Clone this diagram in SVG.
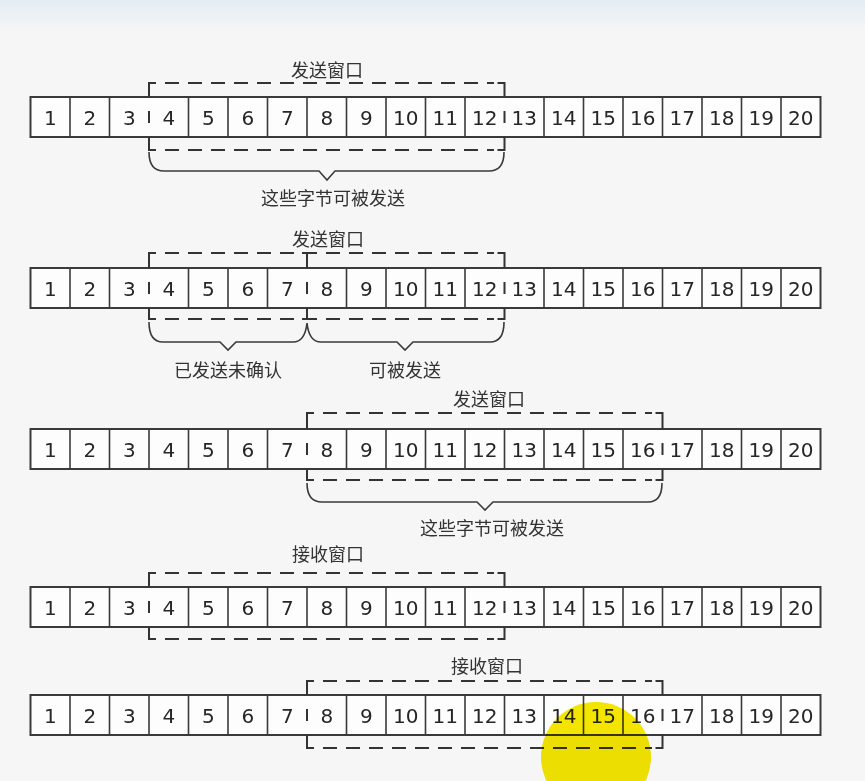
<svg xmlns="http://www.w3.org/2000/svg" width="865" height="781" viewBox="0 0 865 781">
<defs>
<linearGradient id="topfade" x1="0" y1="0" x2="0" y2="1">
<stop offset="0" stop-color="#e4ecf3"/>
<stop offset="1" stop-color="#f6f6f6"/>
</linearGradient>
<style>
.row{fill:#fdfdfd;stroke:#3a3a3a;stroke-width:2}
.sep{stroke:#3a3a3a;stroke-width:1.6;fill:none}
.num{font-family:"DejaVu Sans",Verdana,sans-serif;font-size:20px;fill:#262626;text-anchor:middle;dominant-baseline:central}
.lbl{font-family:"Noto Sans CJK SC","Noto Sans",sans-serif;font-size:18px;fill:#333;text-anchor:middle;dominant-baseline:central}
.win{stroke:#333;stroke-width:2;fill:none}
.dash{stroke:#333;stroke-width:2;fill:none;stroke-dasharray:14 9}
.brace{stroke:#3a3a3a;stroke-width:1.6;fill:none}
</style>
</defs>
<rect x="0" y="0" width="865" height="781" fill="#f6f6f6"/>
<rect x="0" y="0" width="865" height="32" fill="url(#topfade)"/>

<!-- Row 1: send window over 4-12 -->
<g id="row1" transform="translate(0,97)">
<rect class="row" x="30.5" y="0" width="790" height="40"/>
<path class="sep" d="M70,0V40M109.5,0V40M188.5,0V40M228,0V40M267.5,0V40M307,0V40M346.5,0V40M386,0V40M425.5,0V40M465,0V40M544,0V40M583.5,0V40M623,0V40M662.5,0V40M702,0V40M741.5,0V40M781,0V40"/>
<g class="num"><text x="50.25" y="21">1</text><text x="89.75" y="21">2</text><text x="129.25" y="21">3</text><text x="168.75" y="21">4</text><text x="208.25" y="21">5</text><text x="247.75" y="21">6</text><text x="287.25" y="21">7</text><text x="326.75" y="21">8</text><text x="366.25" y="21">9</text><text x="405.75" y="21">10</text><text x="445.25" y="21">11</text><text x="484.75" y="21">12</text><text x="524.25" y="21">13</text><text x="563.75" y="21">14</text><text x="603.25" y="21">15</text><text x="642.75" y="21">16</text><text x="682.25" y="21">17</text><text x="721.75" y="21">18</text><text x="761.25" y="21">19</text><text x="800.75" y="21">20</text></g>
<path class="win" d="M149,0V-14H156M504.5,0V-14H497.5M149,40V53H156M504.5,40V53H497.5M149,14V26M504.5,14V26"/>
<path class="dash" d="M165,-14H494M165,53H494"/>
</g>
<g id="row1-labels">
<text class="lbl" x="327" y="69">发送窗口</text>
<path class="brace" d="M149,152Q149,171 164,171H319L327,180L335,171H489Q504,171 504,152"/>
<text class="lbl" x="333" y="197">这些字节可被发送</text>
</g>

<!-- Row 2: send window split at 7|8 -->
<g id="row2" transform="translate(0,268)">
<rect class="row" x="30.5" y="0" width="790" height="40"/>
<path class="sep" d="M70,0V40M109.5,0V40M188.5,0V40M228,0V40M267.5,0V40M346.5,0V40M386,0V40M425.5,0V40M465,0V40M544,0V40M583.5,0V40M623,0V40M662.5,0V40M702,0V40M741.5,0V40M781,0V40"/>
<g class="num"><text x="50.25" y="21">1</text><text x="89.75" y="21">2</text><text x="129.25" y="21">3</text><text x="168.75" y="21">4</text><text x="208.25" y="21">5</text><text x="247.75" y="21">6</text><text x="287.25" y="21">7</text><text x="326.75" y="21">8</text><text x="366.25" y="21">9</text><text x="405.75" y="21">10</text><text x="445.25" y="21">11</text><text x="484.75" y="21">12</text><text x="524.25" y="21">13</text><text x="563.75" y="21">14</text><text x="603.25" y="21">15</text><text x="642.75" y="21">16</text><text x="682.25" y="21">17</text><text x="721.75" y="21">18</text><text x="761.25" y="21">19</text><text x="800.75" y="21">20</text></g>
<path class="win" d="M149,0V-15H156M504.5,0V-15H497.5M149,40V51H156M504.5,40V51H497.5M149,14V26M504.5,14V26M307,0V-15M302,-15H312M307,40V51M302,51H312M307,14V26"/>
<path class="dash" d="M165,-15H494M165,51H494"/>
</g>
<g id="row2-labels">
<text class="lbl" x="328" y="238">发送窗口</text>
<path class="brace" d="M149,322Q149,342 163,342H220L228,350L236,342H293Q305,342 307,323Q309,342 321,342H397L405,350L413,342H490Q504,342 504,322"/>
<text class="lbl" x="228" y="369">已发送未确认</text>
<text class="lbl" x="405" y="369">可被发送</text>
</g>

<!-- Row 3: send window over 8-16 -->
<g id="row3" transform="translate(0,429)">
<rect class="row" x="30.5" y="0" width="790" height="40"/>
<path class="sep" d="M70,0V40M109.5,0V40M149,0V40M188.5,0V40M228,0V40M267.5,0V40M346.5,0V40M386,0V40M425.5,0V40M465,0V40M504.5,0V40M544,0V40M583.5,0V40M623,0V40M702,0V40M741.5,0V40M781,0V40"/>
<g class="num"><text x="50.25" y="21">1</text><text x="89.75" y="21">2</text><text x="129.25" y="21">3</text><text x="168.75" y="21">4</text><text x="208.25" y="21">5</text><text x="247.75" y="21">6</text><text x="287.25" y="21">7</text><text x="326.75" y="21">8</text><text x="366.25" y="21">9</text><text x="405.75" y="21">10</text><text x="445.25" y="21">11</text><text x="484.75" y="21">12</text><text x="524.25" y="21">13</text><text x="563.75" y="21">14</text><text x="603.25" y="21">15</text><text x="642.75" y="21">16</text><text x="682.25" y="21">17</text><text x="721.75" y="21">18</text><text x="761.25" y="21">19</text><text x="800.75" y="21">20</text></g>
<path class="win" d="M307,0V-16H314M662.5,0V-16H655.5M307,40V51H314M662.5,40V51H655.5M307,14V26M662.5,14V26"/>
<path class="dash" d="M323,-16H652M323,51H652"/>
</g>
<g id="row3-labels">
<text class="lbl" x="489" y="398">发送窗口</text>
<path class="brace" d="M307,483Q307,502 322,502H477L485,510L493,502H648Q662,502 662,483"/>
<text class="lbl" x="492" y="527">这些字节可被发送</text>
</g>

<!-- Row 4: receive window over 4-12 -->
<g id="row4" transform="translate(0,587)">
<rect class="row" x="30.5" y="0" width="790" height="40"/>
<path class="sep" d="M70,0V40M109.5,0V40M188.5,0V40M228,0V40M267.5,0V40M307,0V40M346.5,0V40M386,0V40M425.5,0V40M465,0V40M544,0V40M583.5,0V40M623,0V40M662.5,0V40M702,0V40M741.5,0V40M781,0V40"/>
<g class="num"><text x="50.25" y="21">1</text><text x="89.75" y="21">2</text><text x="129.25" y="21">3</text><text x="168.75" y="21">4</text><text x="208.25" y="21">5</text><text x="247.75" y="21">6</text><text x="287.25" y="21">7</text><text x="326.75" y="21">8</text><text x="366.25" y="21">9</text><text x="405.75" y="21">10</text><text x="445.25" y="21">11</text><text x="484.75" y="21">12</text><text x="524.25" y="21">13</text><text x="563.75" y="21">14</text><text x="603.25" y="21">15</text><text x="642.75" y="21">16</text><text x="682.25" y="21">17</text><text x="721.75" y="21">18</text><text x="761.25" y="21">19</text><text x="800.75" y="21">20</text></g>
<path class="win" d="M149,0V-14H156M504.5,0V-14H497.5M149,40V52H156M504.5,40V52H497.5M149,14V26M504.5,14V26"/>
<path class="dash" d="M165,-14H494M165,52H494"/>
</g>
<g id="row4-labels">
<text class="lbl" x="328" y="553">接收窗口</text>
</g>

<!-- Row 5: receive window over 8-16 -->
<g id="row5" transform="translate(0,695)">
<rect class="row" x="30.5" y="0" width="790" height="40"/>
<path class="sep" d="M70,0V40M109.5,0V40M149,0V40M188.5,0V40M228,0V40M267.5,0V40M346.5,0V40M386,0V40M425.5,0V40M465,0V40M504.5,0V40M544,0V40M583.5,0V40M623,0V40M702,0V40M741.5,0V40M781,0V40"/>
<g class="num"><text x="50.25" y="21">1</text><text x="89.75" y="21">2</text><text x="129.25" y="21">3</text><text x="168.75" y="21">4</text><text x="208.25" y="21">5</text><text x="247.75" y="21">6</text><text x="287.25" y="21">7</text><text x="326.75" y="21">8</text><text x="366.25" y="21">9</text><text x="405.75" y="21">10</text><text x="445.25" y="21">11</text><text x="484.75" y="21">12</text><text x="524.25" y="21">13</text><text x="563.75" y="21">14</text><text x="603.25" y="21">15</text><text x="642.75" y="21">16</text><text x="682.25" y="21">17</text><text x="721.75" y="21">18</text><text x="761.25" y="21">19</text><text x="800.75" y="21">20</text></g>
<path class="win" d="M307,0V-14H314M662.5,0V-14H655.5M307,40V53H314M662.5,40V53H655.5M307,14V26M662.5,14V26"/>
<path class="dash" d="M323,-14H652M323,53H652"/>
</g>
<g id="row5-labels">
<text class="lbl" x="487" y="665">接收窗口</text>
</g>

<circle cx="596" cy="757" r="55" fill="#f5e700" style="mix-blend-mode:multiply"/>
</svg>
